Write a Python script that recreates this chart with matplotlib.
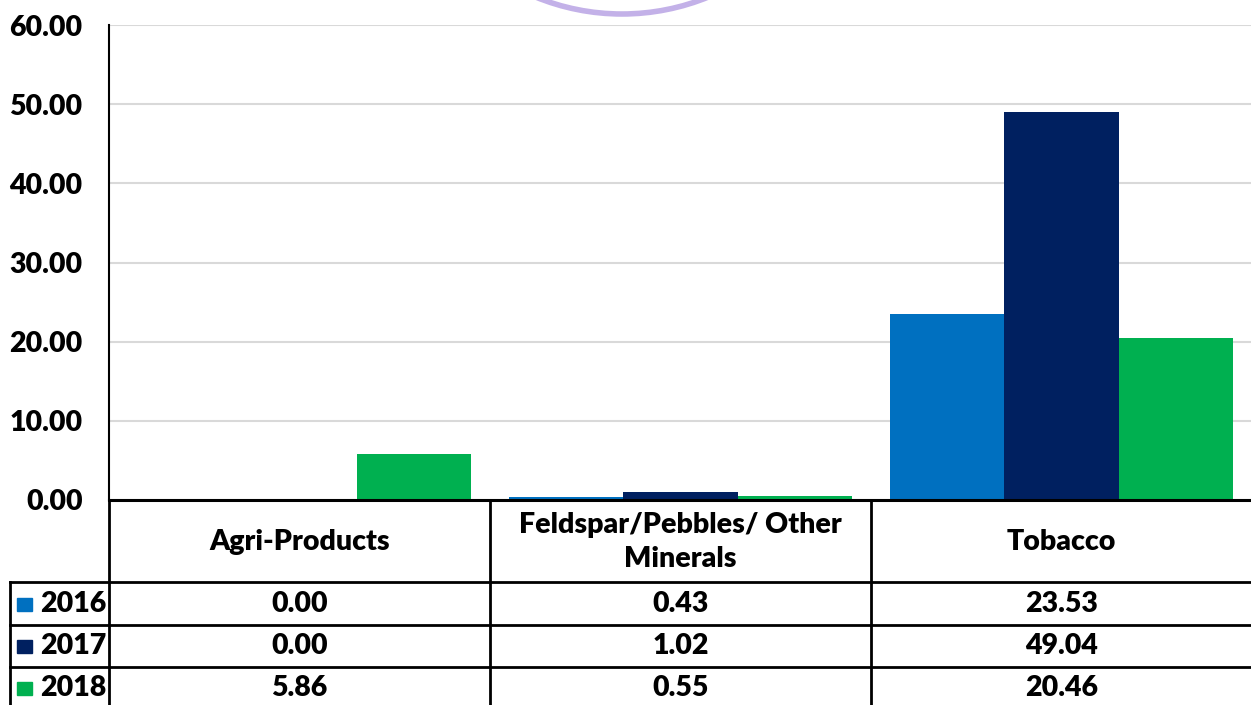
import matplotlib
matplotlib.use('Agg')
import matplotlib.pyplot as plt
import numpy as np
from matplotlib.patches import Ellipse, Rectangle

### data
categories = ['Agri-Products', 'Feldspar/Pebbles/ Other\nMinerals', 'Tobacco']
years = ['2016', '2017', '2018']
vals_2016 = [0.00, 0.43, 23.53]
vals_2017 = [0.00, 1.02, 49.04]
vals_2018 = [5.86, 0.55, 20.46]
colors = ['#0070c0', '#002060', '#00b050']

W, H = 1251, 705
plt.rcParams['font.family'] = ['Lato', 'DejaVu Sans']

fig = plt.figure(figsize=(W / 100, H / 100), dpi=100)

def fx(px):
    return px / W

def fy(py):
    return 1 - py / H

fw = 'heavy'
fs = 20.5

# main bar axes: x 109..1252, y 25..500
ax = fig.add_axes([fx(109), fy(500), fx(1252 - 109), (500 - 25) / H])
x = np.arange(len(categories))
bw = 0.3
series = [vals_2016, vals_2017, vals_2018]
for i, s in enumerate(series):
    ax.bar(x + (i - 1) * bw, s, width=bw, color=colors[i], zorder=3)

ax.set_xlim(-0.5, 2.5)
ax.set_ylim(0, 60)
ax.set_yticks(np.arange(0, 61, 10))
ax.set_yticklabels(['%.2f' % v for v in np.arange(0, 61, 10)],
                   fontsize=fs, fontweight=fw)
ax.tick_params(axis='y', length=0, pad=19)
ax.set_xticks([])
ax.grid(axis='y', color='#d9d9d9', linewidth=1.5, zorder=0)
for sp in ['top', 'right']:
    ax.spines[sp].set_visible(False)
ax.spines['left'].set_linewidth(1.5)
ax.spines['bottom'].set_linewidth(2.2)
ax.spines['bottom'].set_zorder(4)

# data table below, drawn in its own axes (pixel units)
tax = fig.add_axes([0, 0, 1, fy(500)])
tax.set_xlim(0, W)
tax.set_ylim(H, 500)
tax.axis('off')

col_edges = [109, 490, 871, 1252]
row_edges = [500, 582, 625, 667, 709]
lc = '#000000'
for r in row_edges[1:4]:
    tax.plot([10, W], [r, r], color=lc, lw=2, clip_on=False)
tax.plot([10, 10], [582, H], color=lc, lw=2)
for c in col_edges[:3]:
    tax.plot([c, c], [500, H], color=lc, lw=2)

for j, cat in enumerate(categories):
    cx = (col_edges[j] + col_edges[j + 1]) / 2
    tax.text(cx, 542, cat, ha='center', va='center', fontsize=fs,
             fontweight=fw, linespacing=1.35)
    for i, s in enumerate(series):
        cy = (row_edges[i + 1] + row_edges[i + 2]) / 2
        tax.text(cx, cy, '%.2f' % s[j], ha='center', va='center',
                 fontsize=fs, fontweight=fw)

for i, yr in enumerate(years):
    cy = (row_edges[i + 1] + row_edges[i + 2]) / 2
    tax.add_patch(Rectangle((17, cy - 6), 15, 13, color=colors[i]))
    tax.text(40, cy, yr, ha='left', va='center', fontsize=fs, fontweight=fw)

# decorative purple arc at the top
r_out = 228
arc = Ellipse((fx(622), fy(-214)), 2 * r_out / W, 2 * r_out / H,
              transform=fig.transFigure, fill=False, edgecolor='#c3b1e8',
              lw=4, zorder=10)
fig.patches.append(arc)

fig.savefig('out.png', dpi=100)
